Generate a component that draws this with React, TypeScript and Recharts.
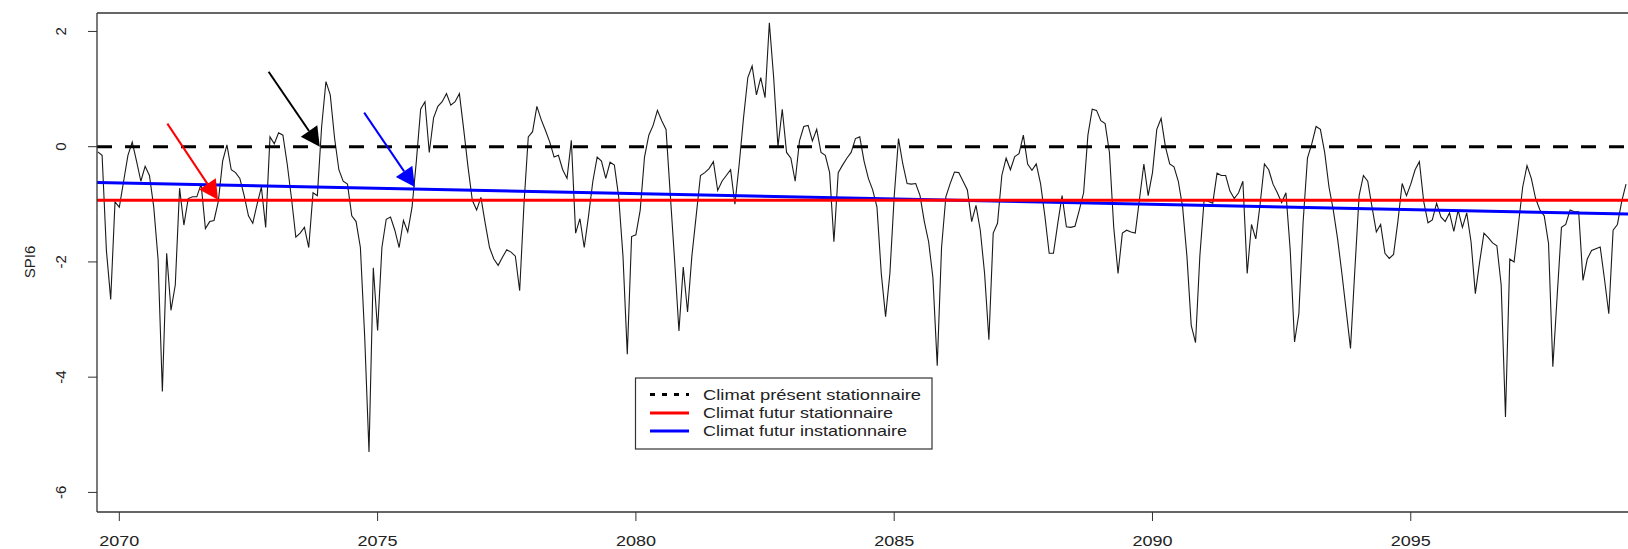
import { LineChart, Line, XAxis, YAxis, ReferenceLine } from 'recharts';

// Monthly SPI6 index, one row per 12 months, first month = Aug 2069
const START_YEAR = 2069 + 7 / 12;
const spi6: number[] = [
  -0.09, -0.15, -1.8, -2.65, -0.96, -1.05, -0.6, -0.15, 0.08, -0.25, -0.6, -0.34,
  -0.5, -1.05, -1.95, -4.25, -1.85, -2.84, -2.4, -0.72, -1.36, -0.9, -0.87, -0.87,
  -0.65, -1.42, -1.3, -1.28, -0.95, -0.25, 0.03, -0.4, -0.45, -0.55, -0.85, -1.2,
  -1.33, -1.0, -0.7, -1.4, 0.17, 0.05, 0.24, 0.2, -0.3, -0.9, -1.57, -1.5,
  -1.4, -1.75, -0.8, -0.85, 0.35, 1.13, 0.9, 0.15, -0.4, -0.6, -0.65, -1.2,
  -1.3, -1.75, -3.3, -5.3, -2.1, -3.19, -1.75, -1.26, -1.22, -1.45, -1.75, -1.28,
  -1.48, -1.05, -0.25, 0.65, 0.78, -0.1, 0.5, 0.7, 0.78, 0.92, 0.72, 0.78,
  0.92, 0.3, -0.35, -0.93, -1.1, -0.88, -1.33, -1.75, -1.95, -2.06, -1.92, -1.79,
  -1.83, -1.9, -2.5, -1.0, 0.17, 0.26, 0.7, 0.47, 0.28, 0.08, -0.18, -0.15,
  -0.4, -0.55, 0.11, -1.5, -1.25, -1.75, -1.2, -0.6, -0.18, -0.25, -0.55, -0.27,
  -0.32, -0.87, -1.9, -3.6, -1.56, -1.53, -1.1, -0.18, 0.2, 0.37, 0.63, 0.45,
  0.3, -0.85, -1.98, -3.2, -2.09, -2.87, -1.9, -1.2, -0.5, -0.45, -0.38, -0.26,
  -0.76, -0.6, -0.5, -0.4, -1.0, -0.3, 0.5, 1.2, 1.4, 0.9, 1.2, 0.85,
  2.15, 1.2, 0.0, 0.65, -0.1, -0.2, -0.6, 0.1, 0.35, 0.37, 0.1, 0.3,
  -0.1, -0.15, -0.45, -1.65, -0.45, -0.32, -0.2, -0.1, 0.14, 0.17, -0.25, -0.55,
  -0.75, -1.05, -2.2, -2.95, -2.2, -0.87, 0.14, -0.3, -0.64, -0.65, -0.64, -0.85,
  -1.3, -1.65, -2.28, -3.8, -1.75, -0.87, -0.64, -0.44, -0.45, -0.6, -0.75, -1.3,
  -1.02, -1.45, -2.2, -3.35, -1.5, -1.33, -0.5, -0.2, -0.4, -0.17, -0.12, 0.2,
  -0.3, -0.41, -0.3, -0.64, -1.2, -1.85, -1.85, -1.33, -0.85, -1.39, -1.4, -1.38,
  -1.1, -0.8, 0.2, 0.65, 0.63, 0.45, 0.4, -0.1, -1.4, -2.2, -1.5, -1.45,
  -1.48, -1.5, -0.9, -0.3, -0.85, -0.45, 0.3, 0.49, 0.0, -0.3, -0.35, -0.6,
  -1.05, -1.9, -3.1, -3.4, -1.9, -0.92, -0.95, -0.98, -0.46, -0.5, -0.5, -0.77,
  -0.9, -0.8, -0.6, -2.2, -1.35, -1.6, -1.0, -0.3, -0.4, -0.65, -0.8, -0.97,
  -0.8, -1.8, -3.39, -2.9, -1.3, -0.2, 0.05, 0.35, 0.3, -0.1, -0.7, -1.1,
  -1.6, -2.2, -2.85, -3.5, -2.15, -0.85, -0.5, -0.6, -1.05, -1.48, -1.35, -1.85,
  -1.94, -1.87, -1.3, -0.64, -0.85, -0.65, -0.4, -0.26, -0.95, -1.32, -1.27, -0.98,
  -1.22, -1.3, -1.15, -1.47, -1.1, -1.4, -1.15, -1.65, -2.55, -2.0, -1.5, -1.58,
  -1.67, -1.72, -2.4, -4.69, -1.95, -2.0, -1.35, -0.7, -0.33, -0.55, -0.9, -1.1,
  -1.2, -1.68, -3.82, -2.6, -1.4, -1.35, -1.1, -1.13, -1.13, -2.32, -1.95, -1.8,
  -1.77, -1.74, -2.3, -2.9, -1.45, -1.35, -0.95, -0.65,
];

// Reference levels
const presentMean = 0;
const futureMean = -0.93;
const trendYears = [2069.568, 2099.205];
const trendValues = [-0.62, -1.17];

const X_DOMAIN: [number, number] = [2069.568, 2099.205];
const Y_DOMAIN: [number, number] = [-6.34, 2.32];
const xTicks = [2070, 2075, 2080, 2085, 2090, 2095];
const yTicks = [-6, -4, -2, 0, 2];

// Annotation arrows: [year, value] start -> tip
const arrowColors = ['#000000', '#ff0000', '#0000ff'];
const arrowFrom = [[2072.89, 1.3], [2070.93, 0.4], [2074.74, 0.59]];
const arrowTo = [[2073.88, 0.0], [2071.91, -0.92], [2075.72, -0.7]];

const legendLabels = ['Climat présent stationnaire', 'Climat futur stationnaire', 'Climat futur instationnaire'];
const legendWidths = [218, 190, 204];

const data = spi6.map((v, i) => ({ t: START_YEAR + i / 12, spi: v }));

const FONT = '"Liberation Sans", Arial, sans-serif';
const AXIS = '#333';

const XTick = ({ x, y, payload }: any) => (
  <g transform={`translate(${x},${y})`}>
    <text transform="scale(1.2,1)" textAnchor="middle" y={23} fontFamily={FONT} fontSize={15} fill="#222">
      {payload.value}
    </text>
  </g>
);

const YTick = ({ y, payload }: any) => (
  <text transform={`translate(66,${y}) rotate(-90)`} textAnchor="middle" fontFamily={FONT} fontSize={15} fill="#222">
    {payload.value}
  </text>
);

const arrowShape = (color: string) => (p: any) => {
  const { x1, y1, x2, y2 } = p;
  const len = Math.hypot(x2 - x1, y2 - y1);
  const ux = (x2 - x1) / len;
  const uy = (y2 - y1) / len;
  const bx = x2 - ux * 19;
  const by = y2 - uy * 19;
  const pts = `${x2},${y2} ${bx - uy * 10},${by + ux * 10} ${bx + uy * 10},${by - ux * 10}`;
  return (
    <g>
      <line x1={x1} y1={y1} x2={bx} y2={by} stroke={color} strokeWidth={2} />
      <polygon points={pts} fill={color} />
    </g>
  );
};

function Legend() {
  const rows = [394.5, 413, 431];
  return (
    <svg width={1628} height={549} style={{ position: 'absolute', left: 0, top: 0, pointerEvents: 'none' }}>
      <rect x={635.5} y={378} width={296.5} height={71} fill="#fff" stroke="#333" strokeWidth={1.2} />
      <line x1={650} y1={rows[0]} x2={689} y2={rows[0]} stroke="#000" strokeWidth={3} strokeDasharray="5 7" />
      <line x1={650} y1={rows[1]} x2={689} y2={rows[1]} stroke="#ff0000" strokeWidth={3} />
      <line x1={650} y1={rows[2]} x2={689} y2={rows[2]} stroke="#0000ff" strokeWidth={3} />
      {legendLabels.map((label, i) => (
        <text
          key={label}
          x={703}
          y={rows[i] + 5}
          fontFamily={FONT}
          fontSize={15}
          fill="#222"
          textLength={legendWidths[i]}
          lengthAdjust="spacingAndGlyphs"
        >
          {label}
        </text>
      ))}
    </svg>
  );
}

export default function App() {
  return (
    <div style={{ position: 'absolute', left: 0, top: 0, width: 1628, height: 549, background: '#fff' }}>
      <LineChart width={1628} height={549} data={data} margin={{ top: 13, right: 0, left: 0, bottom: 0 }}>
        <XAxis
          dataKey="t"
          type="number"
          domain={X_DOMAIN}
          ticks={xTicks}
          allowDataOverflow
          height={37}
          tickSize={9}
          tick={<XTick />}
          stroke={AXIS}
          axisLine={{ stroke: AXIS, strokeWidth: 1.3 }}
          tickLine={{ stroke: AXIS }}
        />
        <YAxis
          type="number"
          domain={Y_DOMAIN}
          ticks={yTicks}
          allowDataOverflow
          width={97}
          tickSize={9}
          tick={<YTick />}
          axisLine={{ stroke: AXIS, strokeWidth: 1.3 }}
          tickLine={{ stroke: AXIS }}
          label={{
            value: 'SPI6',
            angle: -90,
            position: 'insideLeft',
            offset: 0,
            content: () => (
              <text transform="translate(35,262) rotate(-90)" textAnchor="middle" fontFamily={FONT} fontSize={15} fill="#222">
                SPI6
              </text>
            ),
          }}
        />
        <ReferenceLine y={Y_DOMAIN[1]} stroke={AXIS} strokeWidth={1.3} />
        <Line
          dataKey="spi"
          stroke="#1a1a1a"
          strokeWidth={1.1}
          dot={false}
          isAnimationActive={false}
        />
        <ReferenceLine y={presentMean} stroke="#000" strokeWidth={3} strokeDasharray="15 13" />
        <ReferenceLine
          segment={[
            { x: trendYears[0], y: trendValues[0] },
            { x: trendYears[1], y: trendValues[1] },
          ]}
          stroke="#0000ff"
          strokeWidth={3}
        />
        <ReferenceLine y={futureMean} stroke="#ff0000" strokeWidth={3} />
        {arrowColors.map((c, i) => (
          <ReferenceLine
            key={c}
            segment={[
              { x: arrowFrom[i][0], y: arrowFrom[i][1] },
              { x: arrowTo[i][0], y: arrowTo[i][1] },
            ]}
            shape={arrowShape(c)}
          />
        ))}
      </LineChart>
      <Legend />
    </div>
  );
}
